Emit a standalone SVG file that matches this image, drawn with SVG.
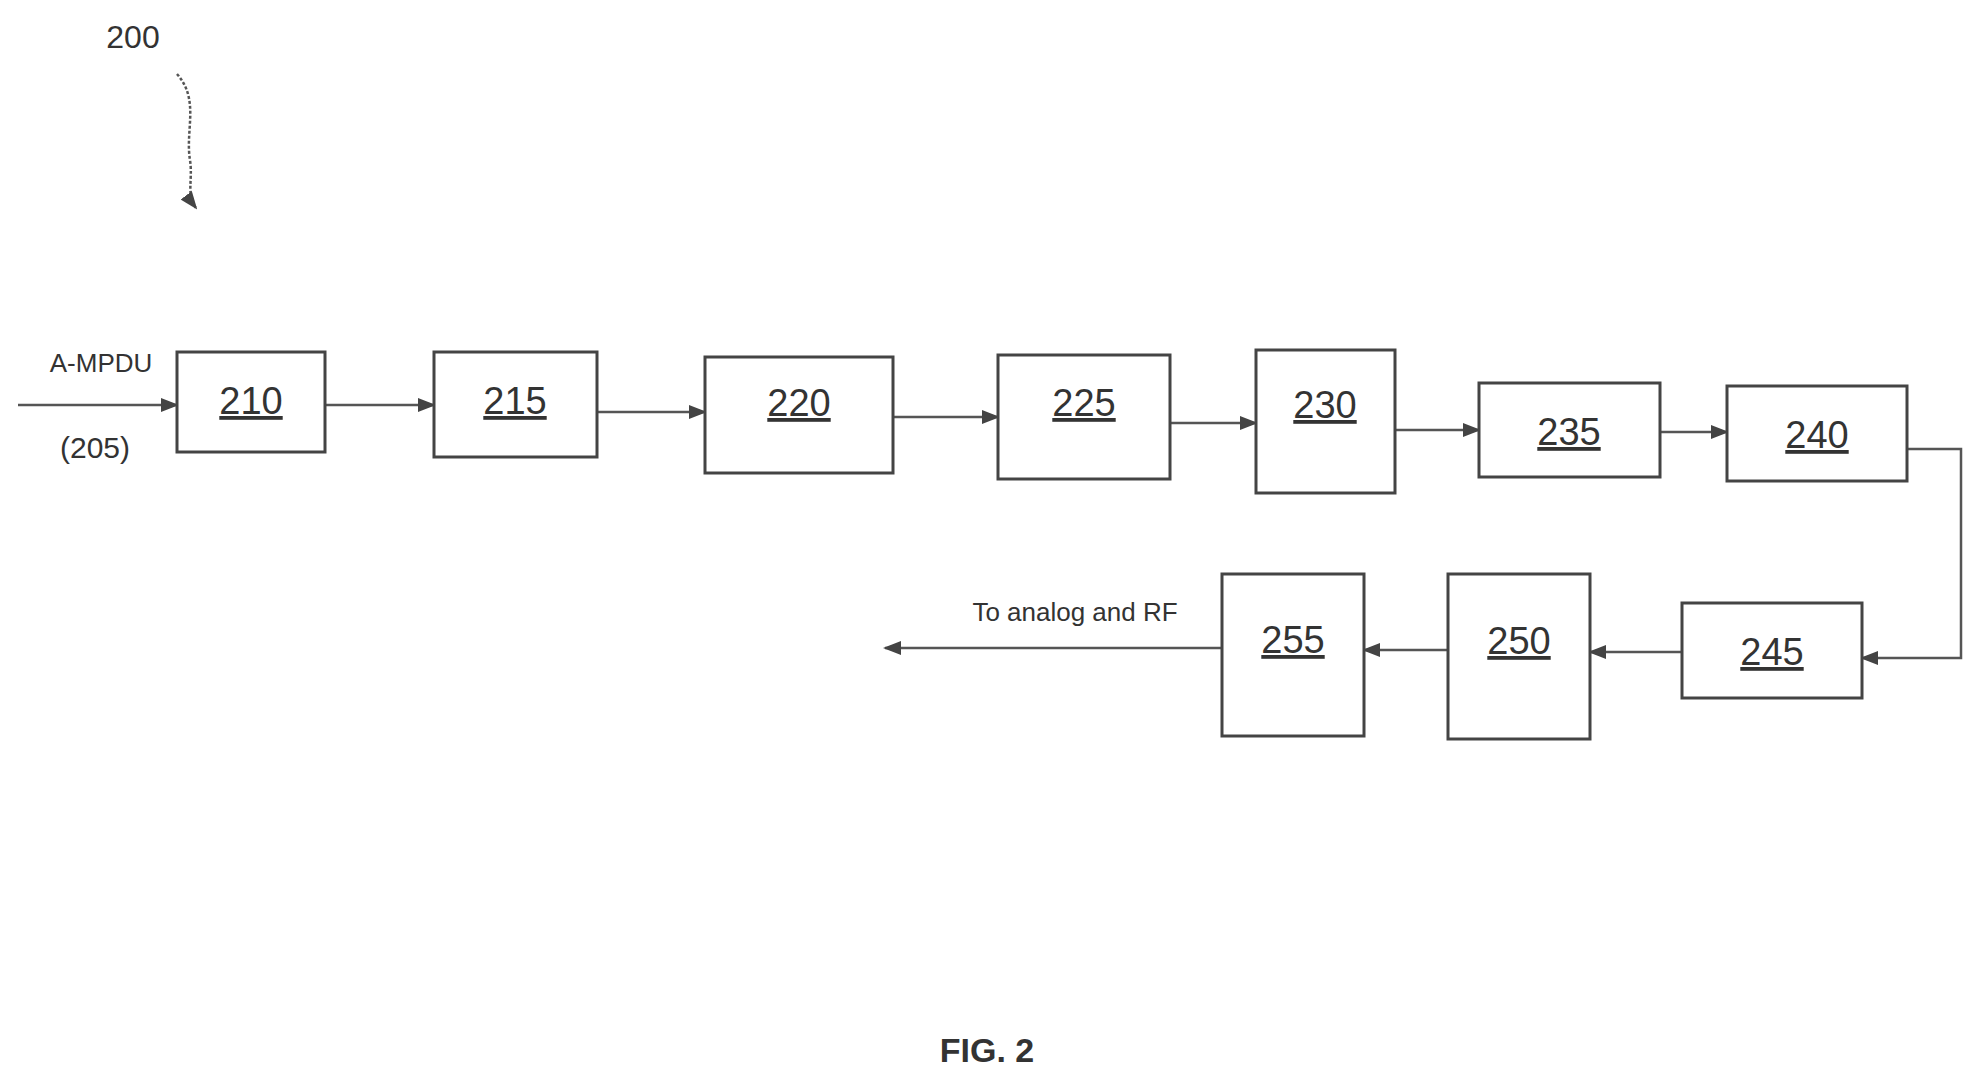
<svg xmlns="http://www.w3.org/2000/svg" width="1980" height="1080" viewBox="0 0 1980 1080">
<style>
.b{fill:#fff;stroke:#444;stroke-width:3}
.t{font-family:"Liberation Sans",sans-serif;font-size:38px;fill:#333;text-anchor:middle;text-decoration:underline}
.l{font-family:"Liberation Sans",sans-serif;font-size:26px;fill:#333;text-anchor:middle}
.c{fill:none;stroke:#555;stroke-width:2.5;marker-end:url(#a)}
</style>
<defs><marker id="a" markerWidth="10" markerHeight="8" refX="9" refY="4" orient="auto" markerUnits="userSpaceOnUse" viewBox="0 0 10 8"><path d="M0,0L10,4L0,8z" fill="#444"/></marker>
<marker id="a2" markerWidth="18" markerHeight="14" refX="16" refY="7" orient="auto" markerUnits="userSpaceOnUse"><path d="M0,0L18,7L0,14z" fill="#444"/></marker></defs>
<rect width="1980" height="1080" fill="#fff"/>
<text x="133" y="48" class="l" style="font-size:32px">200</text>
<path d="M177,74 C200,100 185,130 190,160 C193,180 186,195 196,208" fill="none" stroke="#555" stroke-width="2.5" stroke-dasharray="3,2" marker-end="url(#a2)"/>
<text x="101" y="372" class="l">A-MPDU</text>
<text x="95" y="458" class="l" style="font-size:30px">(205)</text>
<text x="1075" y="621" class="l">To analog and RF</text>
<text x="987" y="1062" class="l" style="font-size:34px;font-weight:bold">FIG. 2</text>
<g id="connectors" transform="scale(1)">
<path class="c" d="M18,405H177" style="marker-end:url(#a2)"/>
<path class="c" d="M325,405H434" style="marker-end:url(#a2)"/>
<path class="c" d="M597,412H705" style="marker-end:url(#a2)"/>
<path class="c" d="M893,417H998" style="marker-end:url(#a2)"/>
<path class="c" d="M1170,423H1256" style="marker-end:url(#a2)"/>
<path class="c" d="M1395,430H1479" style="marker-end:url(#a2)"/>
<path class="c" d="M1660,432H1727" style="marker-end:url(#a2)"/>
<path class="c" d="M1907,449H1961V658H1862" style="marker-end:url(#a2)"/>
<path class="c" d="M1682,652H1590" style="marker-end:url(#a2)"/>
<path class="c" d="M1448,650H1364" style="marker-end:url(#a2)"/>
<path class="c" d="M1222,648H885" style="marker-end:url(#a2)"/>
</g>
<g id="n210"><rect class="b" x="177" y="352" width="148" height="100"/><text class="t" x="251" y="414">210</text></g>
<g id="n215"><rect class="b" x="434" y="352" width="163" height="105"/><text class="t" x="515" y="414">215</text></g>
<g id="n220"><rect class="b" x="705" y="357" width="188" height="116"/><text class="t" x="799" y="416">220</text></g>
<g id="n225"><rect class="b" x="998" y="355" width="172" height="124"/><text class="t" x="1084" y="416">225</text></g>
<g id="n230"><rect class="b" x="1256" y="350" width="139" height="143"/><text class="t" x="1325" y="418">230</text></g>
<g id="n235"><rect class="b" x="1479" y="383" width="181" height="94"/><text class="t" x="1569" y="445">235</text></g>
<g id="n240"><rect class="b" x="1727" y="386" width="180" height="95"/><text class="t" x="1817" y="448">240</text></g>
<g id="n245"><rect class="b" x="1682" y="603" width="180" height="95"/><text class="t" x="1772" y="665">245</text></g>
<g id="n250"><rect class="b" x="1448" y="574" width="142" height="165"/><text class="t" x="1519" y="654">250</text></g>
<g id="n255"><rect class="b" x="1222" y="574" width="142" height="162"/><text class="t" x="1293" y="653">255</text></g>
</svg>
